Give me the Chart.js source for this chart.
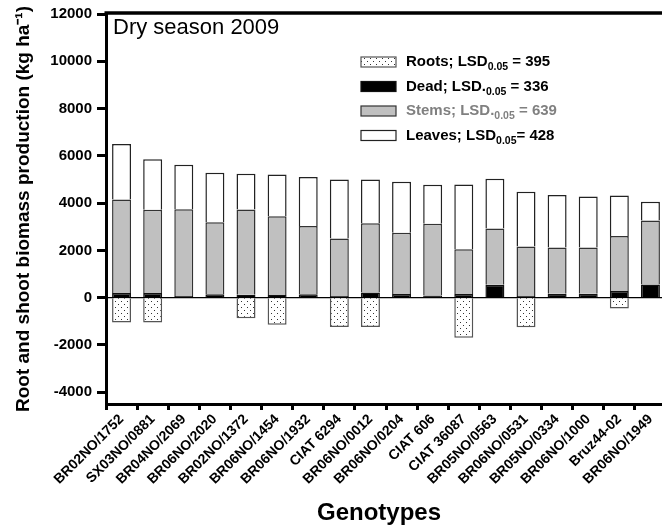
<!DOCTYPE html>
<html lang="en">
<head>
<meta charset="utf-8">
<title>Dry season 2009 - root and shoot biomass</title>
<script src="https://cdn.jsdelivr.net/npm/chart.js@4.4.1/dist/chart.umd.min.js"></script>
<style>
	html, body { margin: 0; padding: 0; overflow: hidden; background: #fff; }
	.wrapper { width: 666px; height: 529px; position: relative; }
</style>
</head>
<body>
	<div class="wrapper">
		<canvas id="chart-0"></canvas>
	</div>

	<script>
		var genotypes = ['BR02NO/1752', 'SX03NO/0881', 'BR04NO/2069', 'BR06NO/2020', 'BR02NO/1372', 'BR06NO/1454',
			'BR06NO/1932', 'CIAT 6294', 'BR06NO/0012', 'BR06NO/0204', 'CIAT 606', 'CIAT 36087',
			'BR05NO/0563', 'BR06NO/0531', 'BR05NO/0334', 'BR06NO/1000', 'Bruz44-02', 'BR06NO/1949'];
		var roots = [-1050, -1050, null, null, -870, -1150, null, -1240, -1240, null, null, -1700, null, -1250, null, null, -460, null];
		var dead = [200, 200, 70, 140, 125, 110, 140, 70, 220, 150, 90, 150, 540, 70, 160, 160, 280, 560];
		var stems = [3950, 3520, 3670, 3050, 3600, 3330, 2890, 2430, 2930, 2600, 3040, 1900, 2380, 2090, 1960, 1960, 2330, 2700];
		var leaves = [2350, 2130, 1880, 2090, 1520, 1770, 2070, 2500, 1850, 2150, 1645, 2740, 2110, 2320, 2220, 2160, 1710, 800];
		var yTicks = [-4000, -2000, 0, 2000, 4000, 6000, 8000, 10000, 12000];
		var seriesNames = ['Roots', 'Dead', 'Stems', 'Leaves'];
		var lsdValues = [395, 336, 639, 428];

		var FONT = "'Liberation Sans', Arial, sans-serif";

		// dotted fill for the roots
		function dotPattern() {
			var c = document.createElement('canvas');
			c.width = 6; c.height = 6;
			var g = c.getContext('2d');
			g.fillStyle = '#fff';
			g.fillRect(0, 0, 6, 6);
			g.fillStyle = '#333';
			g.fillRect(1, 1, 1, 1);
			g.fillRect(4, 4, 1, 1);
			return g.createPattern(c, 'repeat');
		}
		var dots = dotPattern();

		var fills = [dots, '#000', '#c0c0c0', '#fff'];
		var borders = ['#555', '#111', '#333', '#222'];
		var textColors = ['#000', '#000', '#808080', '#000'];

		function drawRich(ctx, x, y, parts) {
			parts.forEach(function (p) {
				ctx.font = p.font;
				ctx.fillText(p.text, x, y + (p.dy || 0));
				x += ctx.measureText(p.text).width;
			});
		}

		var decor = {
			id: 'decor',
			beforeDatasetsDraw: function (chart) {
				var ctx = chart.ctx, a = chart.chartArea;
				var y0 = chart.scales.y.getPixelForValue(0);
				ctx.save();
				ctx.strokeStyle = '#000';
				ctx.lineWidth = 1.3;
				ctx.beginPath();
				ctx.moveTo(a.left, y0);
				ctx.lineTo(a.right, y0);
				ctx.stroke();
				ctx.restore();
			},
			afterDraw: function (chart) {
				var ctx = chart.ctx, a = chart.chartArea;
				ctx.save();
				// top frame line
				ctx.strokeStyle = '#000';
				ctx.lineWidth = 3.5;
				ctx.beginPath();
				ctx.moveTo(a.left - 1.5, a.top - 1);
				ctx.lineTo(a.right, a.top - 1);
				ctx.stroke();

				ctx.fillStyle = '#000';
				ctx.textBaseline = 'alphabetic';
				ctx.font = '22px ' + FONT;
				ctx.fillText('Dry season 2009', 113, 34);

				// x axis title, placed a bit left of the area centre as in the original
				ctx.textAlign = 'center';
				ctx.textBaseline = 'middle';
				ctx.font = 'bold 24px ' + FONT;
				ctx.fillText('Genotypes', 379, 513);
				ctx.textAlign = 'left';
				ctx.textBaseline = 'alphabetic';

				// legend
				var main = 'bold 15px ' + FONT, sub = 'bold 10.5px ' + FONT;
				for (var i = 0; i < seriesNames.length; i++) {
					var sy = 57 + i * 24.5;
					ctx.fillStyle = fills[i];
					ctx.fillRect(361, sy, 35, 10);
					ctx.lineWidth = 1.2;
					ctx.strokeStyle = borders[i];
					ctx.strokeRect(361, sy, 35, 10);

					var head = seriesNames[i] + '; LSD' + (i === 1 || i === 2 ? '.' : '');
					var tail = (i === 3 ? '= ' : ' = ') + lsdValues[i];
					ctx.fillStyle = textColors[i];
					drawRich(ctx, 406, 66 + i * 24.6, [
						{ text: head, font: main },
						{ text: '0.05', font: sub, dy: 4 },
						{ text: tail, font: main }
					]);
				}
				ctx.restore();
			}
		};

		var data = {
			labels: genotypes,
			datasets: [roots, dead, stems, leaves].map(function (vals, i) {
				return {
					label: seriesNames[i],
					data: vals,
					backgroundColor: fills[i],
					borderColor: borders[i],
					borderWidth: 1.5,
					barPercentage: 0.61,
					categoryPercentage: 1.0
				};
			})
		};

		var chart = new Chart('chart-0', {
			type: 'bar',
			data: data,
			plugins: [decor],
			options: {
				responsive: true,
				maintainAspectRatio: false,
				animation: false,
				layout: { padding: { top: 12, right: 0, bottom: 0, left: 0 } },
				plugins: {
					legend: { display: false },
					tooltip: { enabled: false }
				},
				scales: {
					x: {
						stacked: true,
						offset: true,
						grid: { display: true, drawOnChartArea: false, drawTicks: true, tickLength: 6, tickWidth: 3, tickColor: '#000' },
						border: { display: true, width: 3, color: '#000' },
						ticks: {
							autoSkip: false, minRotation: 45, maxRotation: 45, padding: 1, color: '#000',
							font: { family: FONT, size: 14, weight: 'bold' }
						},
						title: { display: false },
						afterFit: function (s) { s.height = 125; }
					},
					y: {
						stacked: true,
						min: -4500,
						max: 12000,
						afterBuildTicks: function (s) {
							s.ticks = yTicks.map(function (v) { return { value: v }; });
						},
						grid: { display: true, drawOnChartArea: false, drawTicks: true, tickLength: 9, tickWidth: 3, tickColor: '#000' },
						border: { display: true, width: 3, color: '#000' },
						ticks: {
							padding: 5, color: '#000',
							font: { family: FONT, size: 15, weight: 'bold' },
							callback: function (v) { return String(v); }
						},
						title: {
							display: true, text: 'Root and shoot biomass production (kg ha\u207B\u00B9)', color: '#000',
							font: { family: FONT, size: 19, weight: 'bold' },
							padding: { top: 12, bottom: 0 }
						},
						afterFit: function (s) { s.width = 106; }
					}
				}
			}
		});
	</script>
</body>
</html>
